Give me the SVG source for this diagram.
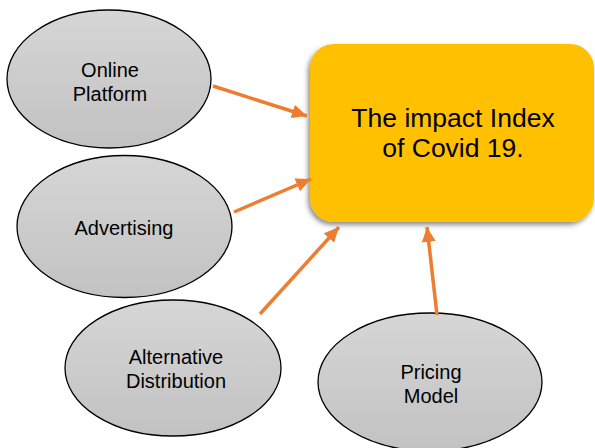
<svg xmlns="http://www.w3.org/2000/svg" width="595" height="448" viewBox="0 0 595 448">
<style>
.node ellipse{fill:url(#g);stroke:#000;stroke-width:1.3}
.lbl{font-family:"Liberation Sans",Arial,sans-serif;font-size:20px;fill:#000;text-anchor:middle}
.main{font-family:"Liberation Sans",Arial,sans-serif;font-size:26.5px;fill:#000;text-anchor:middle}
.conn line{stroke:#ED7D31;stroke-width:3.5;marker-end:url(#ah)}
</style>
<defs>
<linearGradient id="g" x1="0" y1="0" x2="0" y2="1">
<stop offset="0" stop-color="#D6D6D6"/>
<stop offset="1" stop-color="#C2C2C2"/>
</linearGradient>
<filter id="sh" x="-10%" y="-10%" width="120%" height="130%">
<feDropShadow dx="-2" dy="3" stdDeviation="2.5" flood-color="#000" flood-opacity="0.45"/>
</filter>
<marker id="ah" markerUnits="userSpaceOnUse" markerWidth="16" markerHeight="14" refX="15" refY="7" orient="auto">
<path d="M0,0 L15,7 L0,14 Z" fill="#ED7D31"/>
</marker>
</defs>
<g id="center">
<rect x="310" y="44" width="284" height="178" rx="24" fill="#FFC000" filter="url(#sh)"/>
<text class="main" x="453" y="127">The impact Index</text>
<text class="main" x="453" y="157">of Covid 19.</text>
</g>
<g id="online" class="node">
<ellipse cx="109" cy="79" rx="102" ry="69"/>
<text class="lbl" x="110" y="77">Online</text>
<text class="lbl" x="110" y="101">Platform</text>
</g>
<g id="advertising" class="node">
<ellipse cx="124.5" cy="226.5" rx="107.5" ry="71"/>
<text class="lbl" x="124" y="235">Advertising</text>
</g>
<g id="alternative" class="node">
<ellipse cx="173" cy="368" rx="108" ry="68"/>
<text class="lbl" x="176" y="364">Alternative</text>
<text class="lbl" x="176" y="388">Distribution</text>
</g>
<g id="pricing" class="node">
<ellipse cx="430" cy="382" rx="112" ry="69"/>
<text class="lbl" x="431" y="379">Pricing</text>
<text class="lbl" x="431" y="403">Model</text>
</g>
<g id="connectors" class="conn">
<line x1="213" y1="86" x2="307" y2="116"/>
<line x1="234" y1="212" x2="311" y2="179"/>
<line x1="260" y1="314" x2="339" y2="227"/>
<line x1="437" y1="315" x2="427" y2="227"/>
</g>
</svg>
